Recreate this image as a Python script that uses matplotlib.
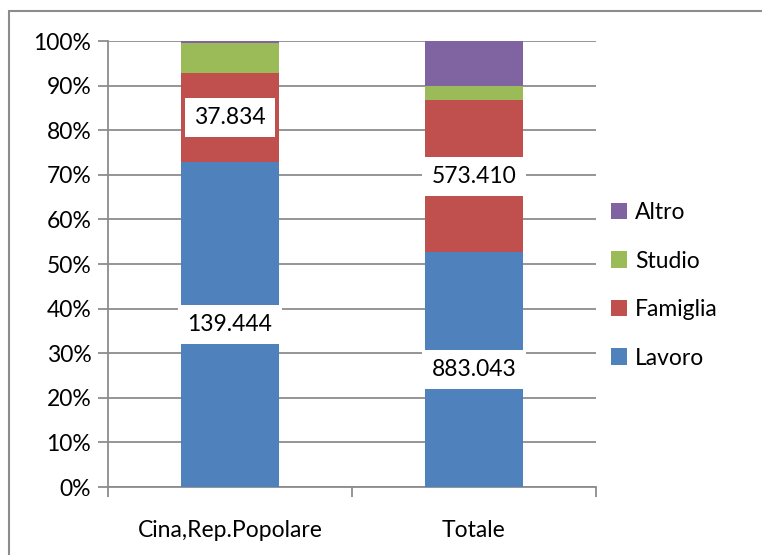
import matplotlib
matplotlib.use('Agg')
import matplotlib.pyplot as plt
from matplotlib.patches import Rectangle
from matplotlib.ticker import FuncFormatter, FixedLocator

plt.rcParams['font.family'] = ['Lato', 'DejaVu Sans']

categorie = ['Cina,Rep.Popolare', 'Totale']
motivi = ['Lavoro', 'Famiglia', 'Studio', 'Altro']
lavoro = [139444, 883043]
famiglia = [37834, 573410]
studio = [12800, 52000]
altro = [1000, 170000]
colori = ['#4f81bd', '#c0504d', '#9bbb59', '#8064a2']
etichette = {'Lavoro': ['139.444', '883.043'], 'Famiglia': ['37.834', '573.410']}

serie = [lavoro, famiglia, studio, altro]
totali = [sum(s[i] for s in serie) for i in range(len(categorie))]
fs = 16.5

fig = plt.figure(figsize=(7.62, 5.55), dpi=100)
ax = fig.add_axes([0.1417, 0.1225, 0.6404, 0.8036])

x = list(range(len(categorie)))
base = [0.0] * len(categorie)
for nome, valori, col in zip(motivi, serie, colori):
    perc = [v / t * 100 for v, t in zip(valori, totali)]
    ax.bar(x, perc, 0.4, bottom=base, color=col, label=nome, zorder=3)
    if nome in etichette:
        for i in x:
            ax.text(i, base[i] + perc[i] / 2, etichette[nome][i], ha='center', va='center',
                    fontsize=fs, zorder=4,
                    bbox=dict(boxstyle='square,pad=0.4', fc='white', ec='none'))
    base = [b + p for b, p in zip(base, perc)]

ax.set_xlim(-0.5, 1.5)
ax.set_ylim(0, 100)
ax.set_yticks(range(0, 101, 10))
ax.yaxis.set_major_formatter(FuncFormatter(lambda v, p: '%d%%' % v))
ax.grid(axis='y', color='#8c8c8c', lw=1.3, zorder=0)
ax.set_xticks(x)
ax.set_xticklabels(categorie)
ax.xaxis.set_minor_locator(FixedLocator([-0.5, 0.5, 1.5]))
ax.tick_params(axis='x', which='major', length=0, pad=24, labelsize=fs)
ax.tick_params(axis='x', which='minor', length=7, color='#8c8c8c', width=1.3)
ax.tick_params(axis='y', length=7, color='#8c8c8c', width=1.3, labelsize=fs, pad=5)
for s in ['top', 'right']:
    ax.spines[s].set_visible(False)
for s in ['left', 'bottom']:
    ax.spines[s].set_color('#8c8c8c')
    ax.spines[s].set_linewidth(1.3)

h, l = ax.get_legend_handles_labels()
fig.legend(h[::-1], l[::-1], loc='center left', bbox_to_anchor=(0.775, 0.486),
           frameon=False, fontsize=fs, handlelength=0.7, handleheight=0.7,
           labelspacing=1.2, handletextpad=0.35)

fig.patches.append(Rectangle((9 / 762, -0.1), 2, 1.1 - 11 / 555, transform=fig.transFigure,
                             fill=False, ec='#8c8c8c', lw=1.5))

fig.savefig('out.png', dpi=100)
